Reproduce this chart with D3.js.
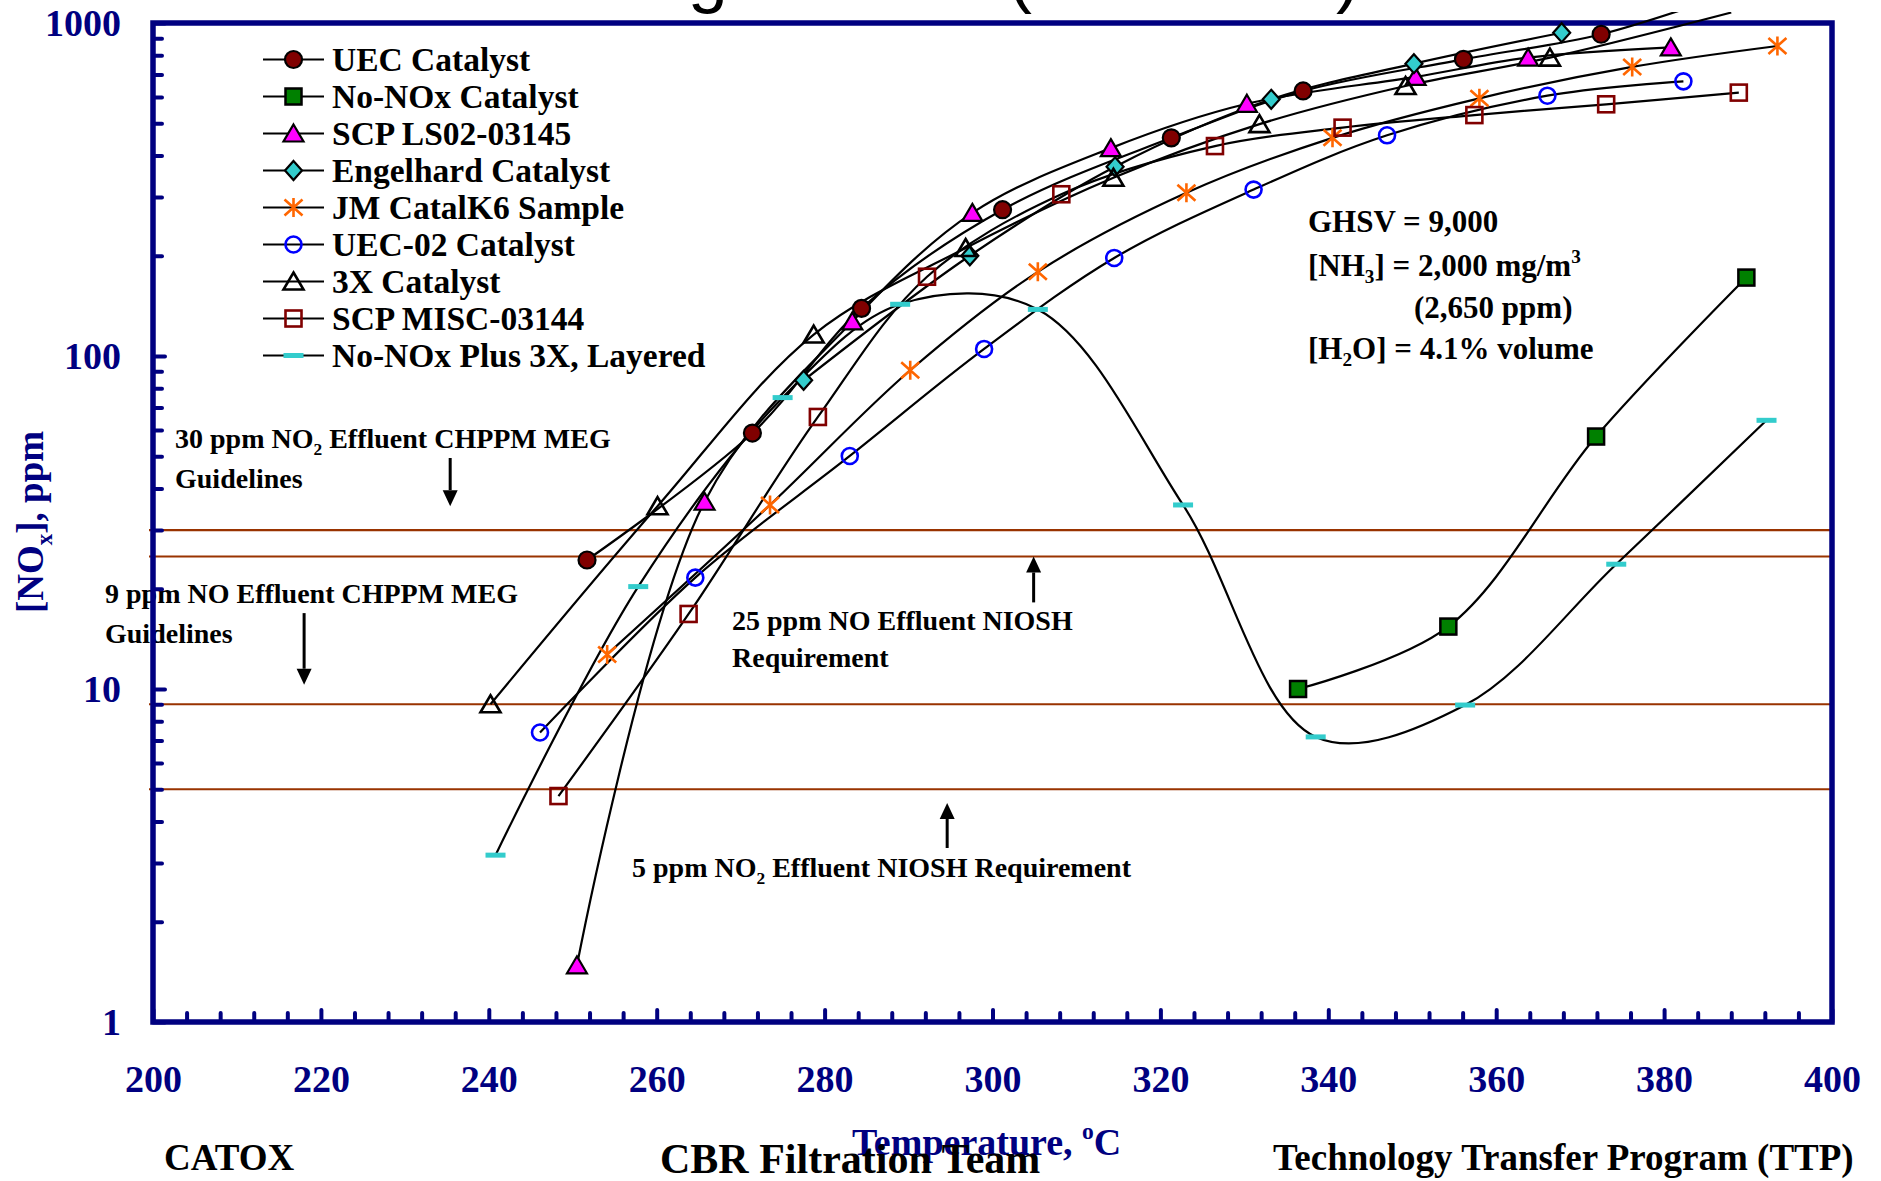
<!DOCTYPE html>
<html>
<head>
<meta charset="utf-8">
<script src="https://cdn.jsdelivr.net/npm/d3@7"></script>
<style>
  html, body { margin: 0; padding: 0; background: #ffffff; }
  svg { display: block; }
</style>
</head>
<body>
<svg id="chart" width="1881" height="1181"></svg>
<script>
// ---- Data: bed temperature (°C) and outlet NOx (ppm) for each catalyst ----
const uecTemp      = [251.7, 271.4, 284.4, 301.2, 321.3, 337.0, 356.1, 372.5, 390.0];
const uecNox       = [24.4, 58.7, 139, 275, 452, 625, 778, 925, 1280];

const noNoxTemp    = [336.4, 354.3, 371.9, 389.8];
const noNoxNox     = [10.0, 15.4, 57.3, 172];

const ls02Temp     = [250.5, 265.7, 283.3, 297.6, 314.1, 330.3, 350.4, 363.8, 380.8];
const ls02Nox      = [1.48, 36.5, 127, 269, 421, 572, 689, 787, 845];

const engelTemp    = [277.5, 297.3, 314.6, 333.2, 350.2, 367.8];
const engelNox     = [84.5, 200, 370, 590, 755, 935];

const jmTemp       = [254.1, 273.5, 290.2, 305.4, 323.1, 340.5, 358.0, 376.2, 393.5];
const jmNox        = [12.7, 35.7, 90.6, 179, 309, 452, 594, 738, 853];

const uec02Temp    = [246.1, 264.6, 283.0, 299.0, 314.5, 331.1, 347.0, 366.1, 382.3];
const uec02Nox     = [7.4, 21.6, 50.1, 105, 197, 316, 460, 605, 668];

const x3Temp       = [240.2, 260.1, 278.7, 296.8, 314.4, 331.8, 349.2, 366.4, 388.0];
const x3Nox        = [9.0, 35.4, 116, 211, 343, 497, 647, 787, 1075];

const miscTemp     = [248.3, 263.8, 279.2, 292.2, 308.2, 326.5, 341.7, 357.4, 373.1, 388.9];
const miscNox      = [4.77, 16.8, 65.6, 173, 306, 427, 485, 529, 570, 618];

const layeredTemp  = [240.8, 257.8, 275.0, 289.0, 305.4, 322.7, 338.5, 356.3, 374.3, 392.2];
const layeredNox   = [3.17, 20.3, 75, 143, 138, 35.7, 7.18, 8.95, 23.7, 64.1];

const seriesNames = ["UEC Catalyst", "No-NOx Catalyst", "SCP LS02-03145", "Engelhard Catalyst",
  "JM CatalK6 Sample", "UEC-02 Catalyst", "3X Catalyst", "SCP MISC-03144", "No-NOx Plus 3X, Layered"];

// effluent limits drawn as horizontal reference lines (ppm)
const limitLevels = [30, 25, 9, 5];

// axis ticks
const xTickLabels = [200, 220, 240, 260, 280, 300, 320, 340, 360, 380, 400];
const xMinorTicks = d3.range(204, 400, 4).filter(v => v % 20 !== 0);
const yTickLabels = [1, 10, 100, 1000];
const yMinorTicks = [1, 10, 100].flatMap(d => d3.range(2, 10).map(m => m * d));

// ---- Series assembly ----
const series = [
  { name: seriesNames[0], temp: uecTemp,     nox: uecNox,     marker: "circleFilled" },
  { name: seriesNames[1], temp: noNoxTemp,   nox: noNoxNox,   marker: "squareFilled" },
  { name: seriesNames[2], temp: ls02Temp,    nox: ls02Nox,    marker: "triangleFilled" },
  { name: seriesNames[3], temp: engelTemp,   nox: engelNox,   marker: "diamond" },
  { name: seriesNames[4], temp: jmTemp,      nox: jmNox,      marker: "asterisk" },
  { name: seriesNames[5], temp: uec02Temp,   nox: uec02Nox,   marker: "circleOpen" },
  { name: seriesNames[6], temp: x3Temp,      nox: x3Nox,      marker: "triangleOpen" },
  { name: seriesNames[7], temp: miscTemp,    nox: miscNox,    marker: "squareOpen" },
  { name: seriesNames[8], temp: layeredTemp, nox: layeredNox, marker: "dash" }
].map(s => ({ ...s, points: s.temp.map((t, i) => [t, s.nox[i]]) }));

// ---- Layout ----
const NAVY = "#000080";
const SERIF = "'Liberation Serif', 'Times New Roman', serif";
const SANS = "'Liberation Sans', Arial, sans-serif";

const x = d3.scaleLinear().domain([200, 400]).range([153, 1832]);
const y = d3.scaleLog().domain([1, 1000]).range([1022, 23]);

const svg = d3.select("#chart");

// title band, mostly above the page edge
svg.append("text")
  .attr("x", 1360).attr("y", -1)
  .attr("text-anchor", "end")
  .attr("font-family", SANS).attr("font-size", 72)
  .attr("fill", "#000")
  .text("NOx Emission Testing Results (Ammonia)");

// helper for text with sub/superscripts
function richText(sel, parts, fs) {
  let off = 0;
  parts.forEach(p => {
    const part = typeof p === "string" ? { t: p } : p;
    const target = part.sub ? fs * 0.24 : part.sup ? -fs * 0.42 : 0;
    const ts = sel.append("tspan").text(part.t);
    if (target !== off) ts.attr("dy", target - off);
    if (part.sub || part.sup) ts.attr("font-size", fs * 0.62);
    off = target;
  });
  return sel;
}

// ---- Limit lines ----
svg.append("g").selectAll("line")
  .data(limitLevels)
  .join("line")
  .attr("x1", x(200) - 4).attr("x2", x(400))
  .attr("y1", d => y(d)).attr("y2", d => y(d))
  .attr("stroke", "#993300").attr("stroke-width", 2.2);

// ---- Annotations ----
const noteFs = 28;
const notes = [
  { x: 175, y: 448, parts: ["30 ppm NO", { t: "2", sub: true }, " Effluent CHPPM MEG"] },
  { x: 175, y: 488, parts: ["Guidelines"] },
  { x: 105, y: 603, parts: ["9 ppm NO Effluent CHPPM MEG"] },
  { x: 105, y: 643, parts: ["Guidelines"] },
  { x: 732, y: 630, parts: ["25 ppm NO Effluent NIOSH"] },
  { x: 732, y: 667, parts: ["Requirement"] },
  { x: 632, y: 877, parts: ["5 ppm NO", { t: "2", sub: true }, " Effluent NIOSH Requirement"] }
];
const noteG = svg.append("g")
  .attr("font-family", SERIF).attr("font-weight", "bold")
  .attr("font-size", noteFs).attr("fill", "#000");
notes.forEach(n => {
  richText(noteG.append("text").attr("x", n.x).attr("y", n.y), n.parts, noteFs);
});

const condFs = 31;
const conditions = [
  { x: 1308, y: 232, parts: ["GHSV = 9,000"] },
  { x: 1308, y: 276, parts: ["[NH", { t: "3", sub: true }, "] = 2,000 mg/m", { t: "3", sup: true }] },
  { x: 1414, y: 318, parts: ["(2,650 ppm)"] },
  { x: 1308, y: 359, parts: ["[H", { t: "2", sub: true }, "O] = 4.1% volume"] }
];
const condG = svg.append("g")
  .attr("font-family", SERIF).attr("font-weight", "bold")
  .attr("font-size", condFs).attr("fill", "#000");
conditions.forEach(c => {
  richText(condG.append("text").attr("x", c.x).attr("y", c.y), c.parts, condFs);
});

// arrows pointing at the limit lines (temperature, start ppm, tip ppm)
const arrows = [
  { t: 235.4, from: 49.4, to: 35.4 },
  { t: 218.0, from: 16.9, to: 10.3 },
  { t: 304.9, from: 18.2, to: 25.0 },
  { t: 294.6, from: 3.33, to: 4.55 }
];
const arrowG = svg.append("g");
arrows.forEach(a => {
  const ax = x(a.t), y0 = y(a.from), y1 = y(a.to);
  const dir = y1 > y0 ? 1 : -1;
  const head = 16;
  arrowG.append("line")
    .attr("x1", ax).attr("x2", ax)
    .attr("y1", y0).attr("y2", y1 - dir * head)
    .attr("stroke", "#000").attr("stroke-width", 3);
  arrowG.append("path")
    .attr("d", `M${ax},${y1} L${ax - 7.5},${y1 - dir * head} L${ax + 7.5},${y1 - dir * head} Z`)
    .attr("fill", "#000");
});

// ---- Axes and frame ----
const axisG = svg.append("g");

function styleTicks(g, width) {
  g.select(".domain").remove();
  g.selectAll(".tick line")
    .attr("stroke", NAVY).attr("stroke-width", width).attr("stroke-linecap", "round");
}

axisG.append("g")
  .attr("transform", `translate(0,${y(1)})`)
  .call(d3.axisBottom(x).tickValues(xMinorTicks).tickSize(-9).tickFormat(""))
  .call(g => styleTicks(g, 4));

axisG.append("g")
  .attr("transform", `translate(0,${y(1)})`)
  .call(d3.axisBottom(x).tickValues(xTickLabels).tickSize(-12).tickFormat(d3.format("d")))
  .call(g => styleTicks(g, 4))
  .call(g => g.selectAll(".tick text")
    .attr("y", 70).attr("dy", 0)
    .attr("fill", NAVY)
    .attr("font-family", SERIF).attr("font-weight", "bold").attr("font-size", 38));

axisG.append("g")
  .attr("transform", `translate(${x(200)},0)`)
  .call(d3.axisLeft(y).tickValues(yMinorTicks).tickSize(-9).tickFormat(""))
  .call(g => styleTicks(g, 4));

axisG.append("g")
  .attr("transform", `translate(${x(200)},0)`)
  .call(d3.axisLeft(y).tickValues(yTickLabels).tickSize(-12).tickFormat(d3.format("d")))
  .call(g => styleTicks(g, 4))
  .call(g => g.selectAll(".tick text")
    .attr("x", -32).attr("dy", "0.34em")
    .attr("fill", NAVY)
    .attr("font-family", SERIF).attr("font-weight", "bold").attr("font-size", 38));

axisG.append("rect")
  .attr("x", x(200)).attr("y", y(1000))
  .attr("width", x(400) - x(200)).attr("height", y(1) - y(1000))
  .attr("fill", "none").attr("stroke", NAVY).attr("stroke-width", 5.5);

// axis titles
const yTitle = svg.append("text")
  .attr("transform", `translate(43,522) rotate(-90)`)
  .attr("text-anchor", "middle")
  .attr("font-family", SERIF).attr("font-weight", "bold").attr("font-size", 37)
  .attr("fill", NAVY);
richText(yTitle, ["[NO", { t: "x", sub: true }, "], ppm"], 37);

const xTitle = svg.append("text")
  .attr("x", 852).attr("y", 1155)
  .attr("font-family", SERIF).attr("font-weight", "bold").attr("font-size", 38)
  .attr("fill", NAVY);
richText(xTitle, ["Temperature, ", { t: "o", sup: true }, "C"], 38);

// ---- Series lines ----
svg.append("clipPath").attr("id", "plot-clip")
  .append("rect")
  .attr("x", x(200)).attr("y", 12)
  .attr("width", x(400) - x(200)).attr("height", y(1) - 12);

const line = d3.line()
  .x(d => x(d[0])).y(d => y(d[1]))
  .curve(d3.curveCatmullRom.alpha(0.5));

svg.append("g").attr("clip-path", "url(#plot-clip)")
  .selectAll("path")
  .data(series)
  .join("path")
  .attr("d", s => line(s.points))
  .attr("fill", "none").attr("stroke", "#000").attr("stroke-width", 2.2);

// ---- Markers ----
function drawMarker(g, type) {
  switch (type) {
    case "circleFilled":
      g.append("circle").attr("r", 8.5).attr("fill", "#800000").attr("stroke", "#000").attr("stroke-width", 2.2);
      break;
    case "squareFilled":
      g.append("rect").attr("x", -8).attr("y", -8).attr("width", 16).attr("height", 16)
        .attr("fill", "#008000").attr("stroke", "#000").attr("stroke-width", 2.5);
      break;
    case "triangleFilled":
      g.append("path").attr("d", "M0,-9 L10,8 L-10,8 Z")
        .attr("fill", "#ff00ff").attr("stroke", "#000").attr("stroke-width", 2.2).attr("stroke-linejoin", "miter");
      break;
    case "diamond":
      g.append("path").attr("d", "M0,-9.5 L8.5,0 L0,9.5 L-8.5,0 Z")
        .attr("fill", "#33cccc").attr("stroke", "#000").attr("stroke-width", 2.2);
      break;
    case "asterisk":
      g.append("path").attr("d", "M0,-9.5 V9.5 M-9,-8 L9,8 M-9,8 L9,-8")
        .attr("fill", "none").attr("stroke", "#ff6600").attr("stroke-width", 2.6);
      break;
    case "circleOpen":
      g.append("circle").attr("r", 8).attr("fill", "none").attr("stroke", "#0000ff").attr("stroke-width", 2.6);
      break;
    case "triangleOpen":
      g.append("path").attr("d", "M0,-9 L10,8 L-10,8 Z")
        .attr("fill", "none").attr("stroke", "#000").attr("stroke-width", 2.6);
      break;
    case "squareOpen":
      g.append("rect").attr("x", -8).attr("y", -8).attr("width", 16).attr("height", 16)
        .attr("fill", "none").attr("stroke", "#800000").attr("stroke-width", 2.6);
      break;
    case "dash":
      g.append("rect").attr("x", -10).attr("y", -2.5).attr("width", 20).attr("height", 5)
        .attr("fill", "#33cccc");
      break;
  }
}

const markerLayer = svg.append("g");
series.forEach(s => {
  s.points.filter(p => p[1] <= 1000).forEach(p => {
    const g = markerLayer.append("g").attr("transform", `translate(${x(p[0])},${y(p[1])})`);
    drawMarker(g, s.marker);
  });
});

// ---- Legend ----
const legend = svg.append("g").attr("transform", "translate(0,59.5)");
series.forEach((s, i) => {
  const row = legend.append("g").attr("transform", `translate(0,${i * 37})`);
  row.append("line").attr("x1", 263).attr("x2", 324).attr("y1", 0).attr("y2", 0)
    .attr("stroke", "#000").attr("stroke-width", 2.2);
  drawMarker(row.append("g").attr("transform", "translate(293.5,0)"), s.marker);
  row.append("text").attr("x", 332).attr("y", 11.5)
    .attr("font-family", SERIF).attr("font-weight", "bold").attr("font-size", 33.5)
    .attr("fill", "#000").text(s.name);
});

// ---- Footer ----
const footer = svg.append("g")
  .attr("font-family", SERIF).attr("font-weight", "bold").attr("fill", "#000");
footer.append("text").attr("x", 164).attr("y", 1170).attr("font-size", 37).text("CATOX");
footer.append("text").attr("x", 660).attr("y", 1173).attr("font-size", 42).text("CBR Filtration Team");
footer.append("text").attr("x", 1273).attr("y", 1170).attr("font-size", 37).text("Technology Transfer Program (TTP)");
</script>
</body>
</html>
